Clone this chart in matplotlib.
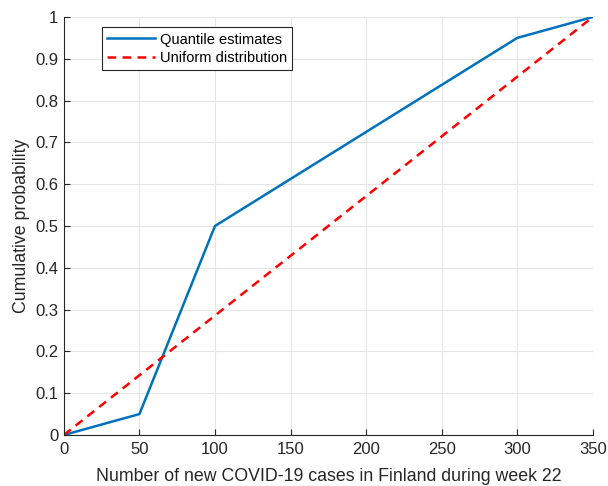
import numpy as np
import matplotlib
matplotlib.use("Agg")
import matplotlib.pyplot as plt

plt.rcParams["font.family"] = ["Liberation Sans", "DejaVu Sans"]

# quantile estimates (cases, cumulative probability)
q_cases = [0, 50, 100, 300, 350]
q_prob = [0, 0.05, 0.5, 0.95, 1.0]
# uniform reference
u_cases = [0, 350]
u_prob = [0, 1.0]

fig = plt.figure(figsize=(6.08, 4.86), dpi=100)
ax = fig.add_axes([0.105, 0.105, 0.87, 0.86])

ax.plot(q_cases, q_prob, color="#0072BD", lw=1.8, label="Quantile estimates")
ax.plot(u_cases, u_prob, color="#FF0000", lw=1.8, ls=(0, (3.5, 2.5)), label="Uniform distribution")

ax.set_xlim(0, 350)
ax.set_ylim(0, 1)
ax.set_xticks(np.arange(0, 351, 50))
ax.set_yticks(np.arange(0, 1.01, 0.1))
ax.set_yticklabels(["0", "0.1", "0.2", "0.3", "0.4", "0.5", "0.6", "0.7", "0.8", "0.9", "1"])
ax.grid(color="#e6e6e6", lw=0.8)
ax.set_axisbelow(True)
for s in ["top", "right"]:
    ax.spines[s].set_visible(False)
for s in ["left", "bottom"]:
    ax.spines[s].set_color("#262626")
    ax.spines[s].set_linewidth(0.8)
ax.tick_params(labelsize=12, colors="#262626", direction="in", length=4, pad=4)
ax.tick_params(axis="x", pad=5)
ax.set_xlabel("Number of new COVID-19 cases in Finland during week 22", fontsize=12.8, color="#262626", labelpad=8)
ax.set_ylabel("Cumulative probability", fontsize=12.8, color="#262626", labelpad=4)

leg = ax.legend(loc="upper left", bbox_to_anchor=(0.072, 0.975), borderaxespad=0,
                fontsize=10.5, fancybox=False, framealpha=1, edgecolor="#262626",
                handlelength=3.3, borderpad=0.35, labelspacing=0.3, handletextpad=0.3)
leg.get_frame().set_linewidth(0.8)

fig.savefig("out.png", dpi=100)
